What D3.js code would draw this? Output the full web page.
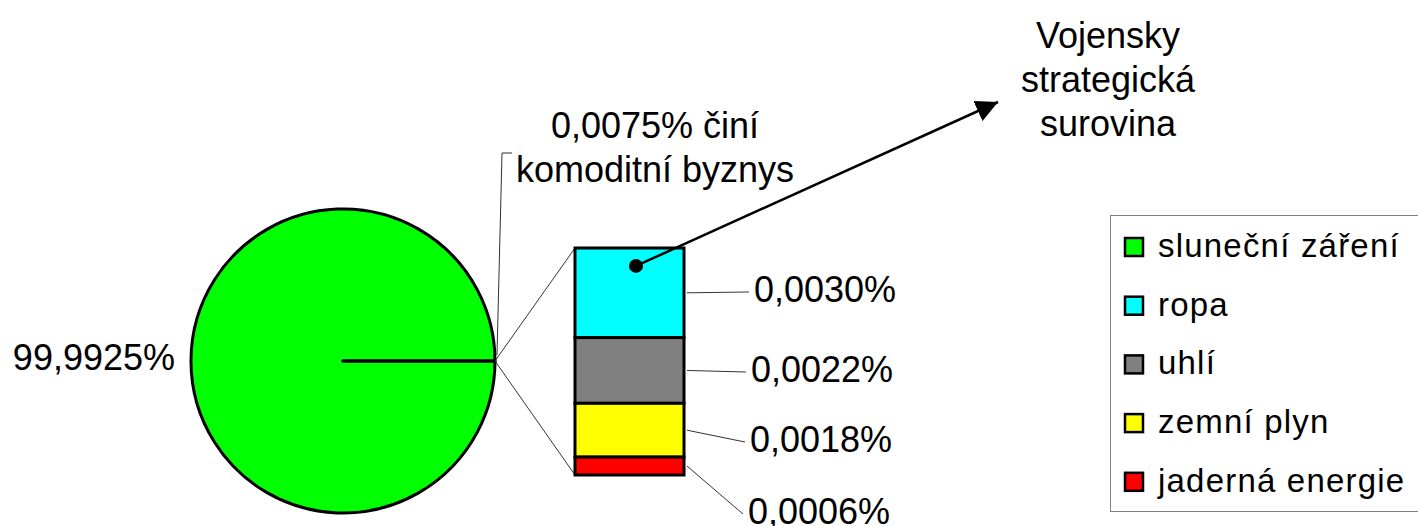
<!DOCTYPE html>
<html>
<head>
<meta charset="utf-8">
<script src="https://cdn.jsdelivr.net/npm/d3@7"></script>
<style>
  body { margin: 0; background: #fff; }
  svg text { font-family: "Liberation Sans", Arial, sans-serif; fill: #000; }
</style>
</head>
<body>
<svg id="chart"></svg>
<script>
// data
const pieLabels = ["sluneční záření", "komoditní byznys"];
const pieValues = [99.9925, 0.0075];
const barLabels = ["ropa", "uhlí", "zemní plyn", "jaderná energie"];
const barValues = [0.0030, 0.0022, 0.0018, 0.0006];
const barTexts = ["0,0030%", "0,0022%", "0,0018%", "0,0006%"];
const legendLabels = ["sluneční záření", "ropa", "uhlí", "zemní plyn", "jaderná energie"];
const legendColors = ["#00ff00", "#00ffff", "#808080", "#ffff00", "#ff0000"];

const W = 1418, H = 526;
const FS = 36;
const PIE = { cx: 343, cy: 361, r: 152 };
const BAR = { x: 575, w: 109, top: 248, bottom: 475 };
const LABEL_END = [[749, 292], [746, 372], [745, 442], [743, 514]];

const svg = d3.select("#chart").attr("width", W).attr("height", H);

// pie
const total = d3.sum(pieValues);
const smallAngle = pieValues[1] / total * 2 * Math.PI;
const pie = d3.pie().sort(null)
  .startAngle(Math.PI / 2 + smallAngle / 2)
  .endAngle(Math.PI / 2 + smallAngle / 2 + 2 * Math.PI);
const arc = d3.arc().innerRadius(0).outerRadius(PIE.r);
const pg = svg.append("g").attr("transform", `translate(${PIE.cx},${PIE.cy})`);
pg.selectAll("path").data(pie(pieValues)).join("path")
  .attr("d", arc)
  .attr("fill", (d, i) => i === 0 ? legendColors[0] : "#000")
  .attr("stroke", "#000")
  .attr("stroke-width", 3)
  .attr("stroke-linejoin", "round");

const edgeX = PIE.cx + PIE.r, edgeY = PIE.cy;

// connectors to bar
svg.append("line").attr("x1", edgeX).attr("y1", edgeY).attr("x2", BAR.x).attr("y2", BAR.top)
  .attr("stroke", "#333").attr("stroke-width", 1);
svg.append("line").attr("x1", edgeX).attr("y1", edgeY).attr("x2", BAR.x).attr("y2", BAR.bottom)
  .attr("stroke", "#333").attr("stroke-width", 1);

// stacked bar
const y = d3.scaleLinear().domain([0, d3.sum(barValues)]).range([BAR.bottom, BAR.top]);
const stack = [];
let acc = 0;
barValues.slice().reverse().forEach((v, j) => {
  const i = barValues.length - 1 - j;
  stack[i] = { y0: acc, y1: acc + v, i };
  acc += v;
});
svg.append("g").selectAll("rect").data(stack).join("rect")
  .attr("x", BAR.x)
  .attr("y", d => y(d.y1))
  .attr("width", BAR.w)
  .attr("height", d => y(d.y0) - y(d.y1))
  .attr("fill", d => legendColors[d.i + 1])
  .attr("stroke", "#000")
  .attr("stroke-width", 3);

// bar value labels
stack.forEach((d, i) => {
  const my = (y(d.y0) + y(d.y1)) / 2;
  const [ex, ey] = LABEL_END[i];
  svg.append("line").attr("x1", BAR.x + BAR.w + 3).attr("y1", my).attr("x2", ex).attr("y2", ey)
    .attr("stroke", "#333").attr("stroke-width", 1);
  svg.append("text").attr("x", ex + 5).attr("y", ey + 10)
    .attr("font-size", FS).text(barTexts[i]);
});

// pie labels
svg.append("text").attr("x", 175).attr("y", 370).attr("text-anchor", "end")
  .attr("font-size", FS).text("99,9925%");

svg.append("polyline")
  .attr("points", `${edgeX + 2},${edgeY - 6} ${502},153 ${512},153`)
  .attr("fill", "none").attr("stroke", "#333").attr("stroke-width", 1);
const small = svg.append("text").attr("text-anchor", "middle").attr("font-size", FS);
small.append("tspan").attr("x", 655).attr("y", 138).text("0,0075% činí");
small.append("tspan").attr("x", 655).attr("y", 182).text("komoditní byznys");

// arrow annotation
svg.append("defs").append("marker")
  .attr("id", "arrow").attr("viewBox", "0 0 10 10").attr("refX", 10).attr("refY", 5)
  .attr("markerWidth", 22).attr("markerHeight", 22).attr("orient", "auto")
  .attr("markerUnits", "userSpaceOnUse")
  .append("path").attr("d", "M0,0 L10,5 L0,10 Z").attr("fill", "#000");
const dotY = y(stack[0].y0 + (stack[0].y1 - stack[0].y0) * 0.8);
svg.append("line").attr("x1", 636).attr("y1", dotY).attr("x2", 998).attr("y2", 102)
  .attr("stroke", "#000").attr("stroke-width", 2.5)
  .attr("marker-end", "url(#arrow)");
svg.append("circle").attr("cx", 636).attr("cy", dotY).attr("r", 7).attr("fill", "#000");

const note = svg.append("text").attr("text-anchor", "middle").attr("font-size", FS);
["Vojensky", "strategická", "surovina"].forEach((t, i) => {
  note.append("tspan").attr("x", 1108).attr("y", 48 + i * 44).text(t);
});

// legend
const lg = svg.append("g").attr("transform", "translate(1110,215)");
lg.append("rect").attr("x", 0.5).attr("y", 0.5).attr("width", 320).attr("height", 296)
  .attr("fill", "#fff").attr("stroke", "#808080").attr("stroke-width", 1);
legendLabels.forEach((label, i) => {
  const ry = 32 + i * 58.7;
  lg.append("rect").attr("x", 15).attr("y", ry - 9).attr("width", 18).attr("height", 18)
    .attr("fill", legendColors[i]).attr("stroke", "#000").attr("stroke-width", 2.5);
  lg.append("text").attr("x", 48).attr("y", ry + 10).attr("font-size", 33)
    .attr("letter-spacing", 1.2).text(label);
});
</script>
</body>
</html>
